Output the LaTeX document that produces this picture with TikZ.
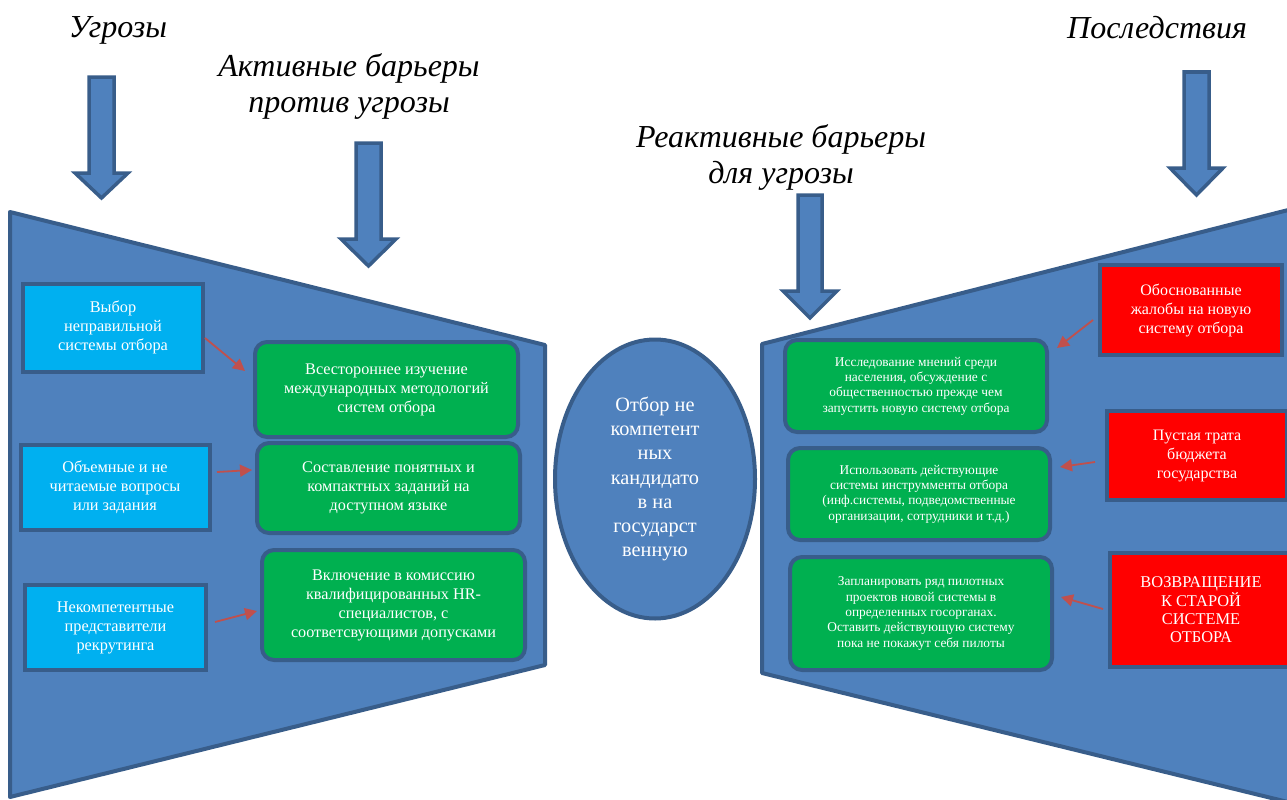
\documentclass[tikz,border=0pt]{standalone}
\usepackage{fontspec}
\setmainfont{Liberation Serif}
\usetikzlibrary{shapes.geometric,arrows.meta}
\definecolor{bfill}{HTML}{4F81BD}
\definecolor{bline}{HTML}{385D8A}
\definecolor{cyanbox}{HTML}{00B0F0}
\definecolor{greenbox}{HTML}{00B050}
\definecolor{redbox}{HTML}{FF0000}
\definecolor{redarrow}{HTML}{C0504D}
\begin{document}
\begin{tikzpicture}[x=1pt,y=-1pt,
  panel/.style={fill=bfill,draw=bline,line width=4pt,line join=round},
  threat/.style={fill=cyanbox,draw=bline,line width=4pt,text=white,align=center,inner sep=0pt,font=\fontsize{16.3}{19}\selectfont},
  barrier/.style={fill=greenbox,draw=bline,line width=4pt,rounded corners=12pt,text=white,align=center,inner sep=0pt,font=\fontsize{16.2}{19}\selectfont},
  rbarrier/.style={barrier,font=\fontsize{13.4}{15.3}\selectfont},
  conseq/.style={fill=redbox,draw=bline,line width=4pt,text=white,align=center,inner sep=0pt,font=\fontsize{16}{19}\selectfont},
  ttl/.style={font=\fontsize{32}{36}\selectfont\itshape,align=center,inner sep=0pt},
  blockarr/.style={fill=bfill,draw=bline,line width=3.5pt,line join=miter},
  redarr/.style={draw=redarrow,line width=1.8pt,-{Triangle[length=12pt,width=12pt]}},
  central/.style={ellipse,fill=bfill,draw=bline,line width=4pt,minimum width=200pt,minimum height=279pt,inner sep=0pt,text=white,align=center,font=\fontsize{20.3}{24.3}\selectfont}]
\useasboundingbox (0,0) rectangle (1287,800);
\fill[white] (0,0) rectangle (1287,800);
\begin{scope}
\clip (0,0) rectangle (1287,800);
% panels
\draw[panel] (10,212) -- (545,345) -- (545,665) -- (10,797) -- cycle;
\draw[panel] (762,344) -- (1300,207) -- (1300,805) -- (762,673) -- cycle;
% central ellipse
\node[central] (c) at (655,479) {Отбор не\\компетент\\ных\\кандидато\\в на\\государст\\венную};
% block arrows
\draw[blockarr] (89,77) -- (114,77) -- (114,173) -- (128,173) -- (101.5,198) -- (75,173) -- (89,173) -- cycle;
\draw[blockarr] (356,143) -- (381,143) -- (381,239) -- (396,239) -- (368.5,266) -- (341,239) -- (356,239) -- cycle;
\draw[blockarr] (798,195) -- (822,195) -- (822,291) -- (837,291) -- (810,318) -- (783,291) -- (798,291) -- cycle;
\draw[blockarr] (1184,72) -- (1209,72) -- (1209,168) -- (1223,168) -- (1196.5,195) -- (1170,168) -- (1184,168) -- cycle;
% titles
\node[ttl] (t1) at (118,30) {Угрозы};
\node[ttl] (t2) at (349,86) {Активные барьеры\\против угрозы};
\node[ttl] (t3) at (781,157) {Реактивные барьеры\\для угрозы};
\node[ttl] (t4) at (1157,28) {Последствия};
% threats
\node[threat,minimum width=180pt,minimum height=88pt] (th1) at (113,327.5) {Выбор\\неправильной\\системы отбора};
\node[threat,minimum width=189pt,minimum height=85pt] (th2) at (115,487.5) {Объемные и не\\читаемые вопросы\\или задания};
\node[threat,minimum width=181pt,minimum height=85pt] (th3) at (115.5,627.5) {Некомпетентные\\представители\\рекрутинга};
% active barriers
\node[barrier,minimum width=263pt,minimum height=95pt] (g1) at (386.5,389.5) {Всестороннее изучение\\международных методологий\\систем отбора};
\node[barrier,minimum width=263pt,minimum height=90pt] (g2) at (388.5,488) {Составление понятных и\\компактных заданий на\\доступном языке};
\node[barrier,minimum width=263pt,minimum height=110pt] (g3) at (393.5,605) {Включение в комиссию\\квалифицированных HR-\\специалистов, с\\соответсвующими допусками};
% reactive barriers
\node[rbarrier,minimum width=262pt,minimum height=92pt] (r1) at (916,386) {Исследование мнений среди\\населения, обсуждение с\\общественностью прежде чем\\запустить новую систему отбора};
\node[rbarrier,minimum width=262pt,minimum height=92pt] (r2) at (919,494) {Использовать действующие\\системы инструмменты отбора\\(инф.системы, подведомственные\\организации, сотрудники и т.д.)};
\node[rbarrier,minimum width=262pt,minimum height=113pt] (r3) at (921,613.5) {Запланировать ряд пилотных\\проектов новой системы в\\определенных госорганах.\\Оставить действующую систему\\пока не покажут себя пилоты};
% consequences
\node[conseq,minimum width=182pt,minimum height=90pt] (k1) at (1191,310) {Обоснованные\\жалобы на новую\\систему отбора};
\node[conseq,minimum width=180pt,minimum height=89pt] (k2) at (1197,455.5) {Пустая трата\\бюджета\\государства};
\node[conseq,minimum width=182pt,minimum height=114pt,font=\fontsize{16.4}{18.3}\selectfont] (k3) at (1201,610) {ВОЗВРАЩЕНИЕ\\К СТАРОЙ\\СИСТЕМЕ\\ОТБОРА};
% red arrows
\coordinate (a1s) at (205,338); \coordinate (a1e) at (245,371);
\coordinate (a2s) at (217,472); \coordinate (a2e) at (252,470);
\coordinate (a3s) at (215,622); \coordinate (a3e) at (257,611);
\coordinate (a4s) at (1093,320); \coordinate (a4e) at (1057,348);
\coordinate (a5s) at (1095,462); \coordinate (a5e) at (1060,467);
\coordinate (a6s) at (1103,609); \coordinate (a6e) at (1061,597);
\draw[redarr] (a1s) -- (a1e);
\draw[redarr] (a2s) -- (a2e);
\draw[redarr] (a3s) -- (a3e);
\draw[redarr] (a4s) -- (a4e);
\draw[redarr] (a5s) -- (a5e);
\draw[redarr] (a6s) -- (a6e);
\end{scope}
\end{tikzpicture}
\end{document}
